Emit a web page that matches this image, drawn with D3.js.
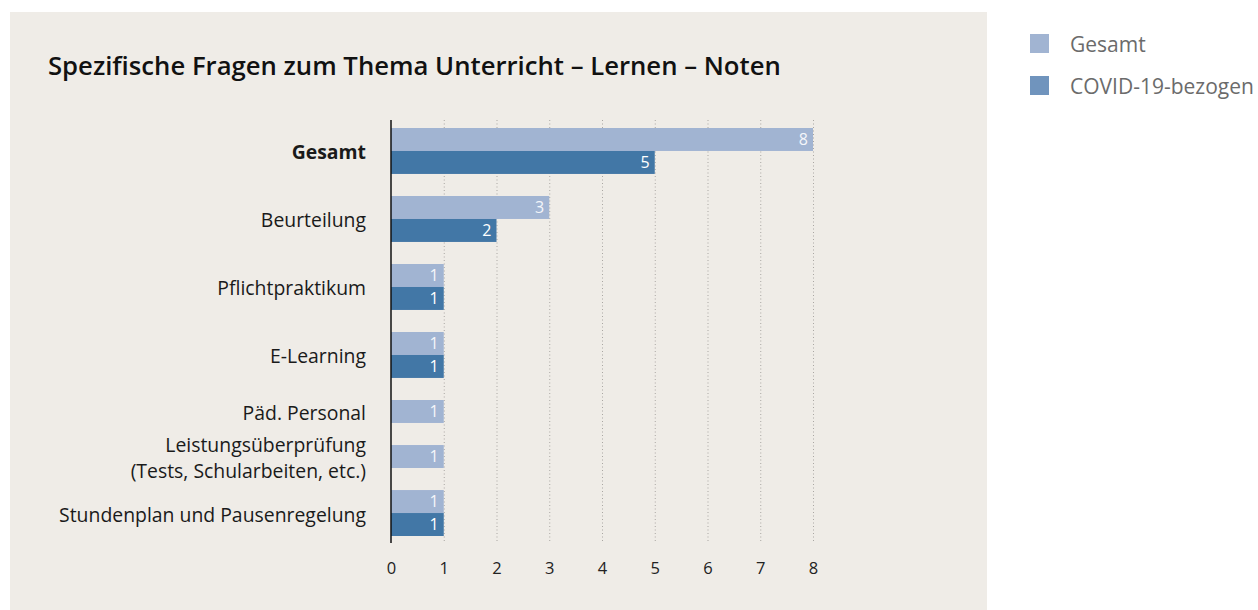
<!DOCTYPE html>
<html>
<head>
<meta charset="utf-8">
<script src="https://cdn.jsdelivr.net/npm/d3@7/dist/d3.min.js"></script>
<style>
  html, body { margin: 0; padding: 0; background: #ffffff; }
  svg { display: block; font-family: "Open Sans", Lato, sans-serif; }
</style>
</head>
<body>
<svg id="chart" width="1258" height="610"></svg>
<script>
// Categories (top to bottom) and the two series; null = no bar
const categories = [
  "Gesamt",
  "Beurteilung",
  "Pflichtpraktikum",
  "E-Learning",
  "Päd. Personal",
  "Leistungsüberprüfung\n(Tests, Schularbeiten, etc.)",
  "Stundenplan und Pausenregelung"
];
const gesamtValues = [8, 3, 1, 1, 1, 1, 1];
const covidValues  = [5, 2, 1, 1, null, null, 1];
const seriesNames  = ["Gesamt", "COVID-19-bezogen"];
const xTicks = [0, 1, 2, 3, 4, 5, 6, 7, 8];
const titleText = "Spezifische Fragen zum Thema Unterricht – Lernen – Noten";

const colors = { light: "#a1b4d2", dark: "#4277a6", legendDark: "#7094bd", panel: "#efece7" };

const svg = d3.select("#chart");

// Background panel
svg.append("rect").attr("x", 10).attr("y", 12).attr("width", 977).attr("height", 610)
  .attr("fill", colors.panel);

// Title
svg.append("text").attr("x", 48).attr("y", 75)
  .attr("font-size", 25.7).attr("font-weight", 600).attr("fill", "#111")
  .text(titleText);

// Each category occupies one slot per present bar; groups are separated by a gap
const BAR = 1, GAP = 0.96;
const groups = [];
let offset = 0;
categories.forEach((c, i) => {
  const bars = [];
  if (gesamtValues[i] != null) bars.push({ key: "g", value: gesamtValues[i] });
  if (covidValues[i] != null) bars.push({ key: "c", value: covidValues[i] });
  bars.forEach((b, j) => { b.start = offset + j * BAR; });
  groups.push({ name: c, bars, start: offset, end: offset + bars.length * BAR, bold: i === 0 });
  offset += bars.length * BAR + GAP;
});
const totalUnits = offset - GAP;

const plot = { left: 391, right: 813, top: 128, bottom: 536 };
const x = d3.scaleLinear().domain([0, 8]).range([plot.left, plot.right]);
const y = d3.scaleLinear().domain([0, totalUnits]).range([plot.top, plot.bottom]);

// Dotted vertical gridlines
svg.append("g").selectAll("line").data(xTicks.filter(d => d > 0)).join("line")
  .attr("x1", d => x(d) + 0.5).attr("x2", d => x(d) + 0.5)
  .attr("y1", 120).attr("y2", 543)
  .attr("stroke", "#a9a6a2").attr("stroke-width", 1).attr("stroke-dasharray", "1,2.5");

// Bottom tick labels (axis without domain line or ticks)
const xAxis = svg.append("g").attr("transform", "translate(0,559)")
  .call(d3.axisBottom(x).tickValues(xTicks).tickFormat(d3.format("d")).tickSize(0));
xAxis.select(".domain").remove();
xAxis.selectAll("text").attr("font-size", 16.5).attr("fill", "#222")
  .attr("font-family", "'Open Sans', sans-serif");

// Bars
const barData = groups.flatMap(g => g.bars);
svg.append("g").selectAll("rect").data(barData).join("rect")
  .attr("x", x(0)).attr("y", d => y(d.start))
  .attr("width", d => x(d.value) - x(0))
  .attr("height", d => y(d.start + BAR) - y(d.start))
  .attr("fill", d => d.key === "g" ? colors.light : colors.dark);

// Value labels inside bar ends
svg.append("g").selectAll("text").data(barData).join("text")
  .attr("x", d => x(d.value) - 5)
  .attr("y", d => (y(d.start) + y(d.start + BAR)) / 2)
  .attr("dy", "0.36em").attr("text-anchor", "end")
  .attr("font-size", 16).attr("fill", d => d.key === "g" ? "#f4f6fa" : "#ffffff")
  .text(d => d.value);

// Vertical axis line
svg.append("line").attr("x1", x(0)).attr("x2", x(0)).attr("y1", 120).attr("y2", 543)
  .attr("stroke", "#111").attr("stroke-width", 1.5);

// Category labels
const labels = svg.append("g").selectAll("text").data(groups).join("text")
  .attr("text-anchor", "end")
  .attr("font-size", 19.4).attr("fill", "#1a1a1a")
  .attr("font-weight", d => d.bold ? 700 : 400);
labels.each(function (d) {
  const lines = d.name.split("\n");
  const mid = (y(d.start) + y(d.end)) / 2;
  const lh = 26;
  const t = d3.select(this);
  lines.forEach((ln, k) => {
    t.append("tspan").attr("x", 366)
      .attr("y", mid + 1.5 + (k - (lines.length - 1) / 2) * lh)
      .attr("dy", "0.36em").text(ln);
  });
});

// Legend
const legend = svg.append("g").selectAll("g").data(seriesNames).join("g")
  .attr("transform", (d, i) => `translate(1030,${34 + i * 42})`);
legend.append("rect").attr("width", 19).attr("height", 19)
  .attr("fill", (d, i) => i === 0 ? colors.light : colors.legendDark);
legend.append("text").attr("x", 40).attr("y", 10).attr("dy", "0.36em")
  .attr("font-size", 21).attr("fill", "#6b6b6b").text(d => d);
</script>
</body>
</html>
